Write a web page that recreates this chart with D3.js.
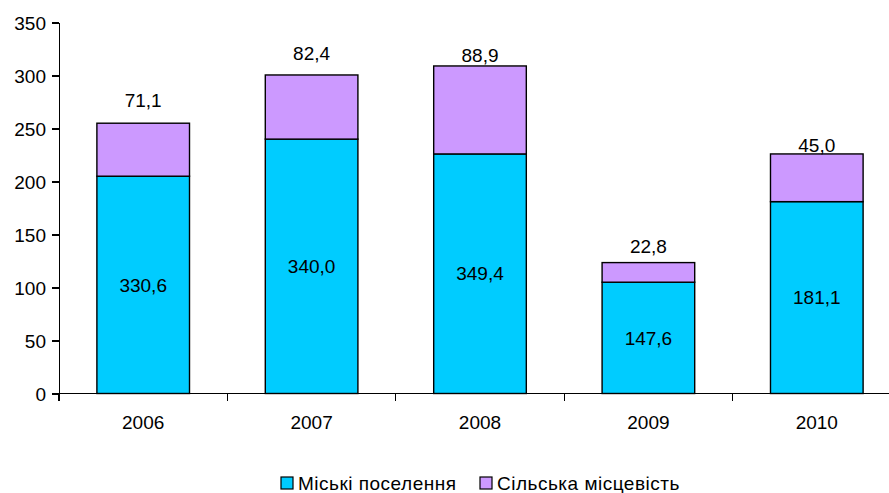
<!DOCTYPE html>
<html>
<head>
  <meta charset="utf-8">
  <script src="https://cdn.jsdelivr.net/npm/d3@7"></script>
  <style>
    html, body { margin: 0; background: #fff; }
    svg { font-family: Arial, "Liberation Sans", sans-serif; display: block; }
    .axis path, .axis line { stroke: #000; stroke-width: 1.3px; shape-rendering: crispEdges; }
    .axis text { font-size: 19px; fill: #000; }
    .bar { stroke: #000; stroke-width: 1.4px; }
    .lbl { font-size: 19px; fill: #000; text-anchor: middle; }
    .leg { font-size: 19px; letter-spacing: 0.5px; }
  </style>
</head>
<body>
<svg id="chart" width="889" height="493"></svg>
<script>
  // years and bar heights as drawn against the axis
  var years = ["2006", "2007", "2008", "2009", "2010"];
  var urban = [205, 240, 226, 105, 181];
  var rural = [50, 60.5, 83, 18.5, 45];
  // printed data labels
  var urbanLabels = ["330,6", "340,0", "349,4", "147,6", "181,1"];
  var ruralLabels = ["71,1", "82,4", "88,9", "22,8", "45,0"];
  // value level where each top label sits
  var ruralLabelAt = [277, 321, 319, 139, 234];
  var yTicks = [0, 50, 100, 150, 200, 250, 300, 350];
  var series = ["Міські поселення", "Сільська місцевість"];
  var colors = ["#00ccff", "#cc99ff"];

  var svg = d3.select("#chart");
  var mLeft = 59, mRight = 901, mTop = 22.5, mBottom = 393.5;

  var x = d3.scaleBand().domain(years).range([mLeft, mRight]).paddingInner(0.45).paddingOuter(0.225);
  var xb = d3.scaleBand().domain(years).range([mLeft, mRight]);
  var y = d3.scaleLinear().domain([0, 350]).range([mBottom, mTop]);

  var rows = years.map(function(yr, i) {
    return { year: yr, urban: urban[i], rural: rural[i], ul: urbanLabels[i], rl: ruralLabels[i], ra: ruralLabelAt[i] };
  });
  var stack = d3.stack().keys(["urban", "rural"])(rows);

  svg.selectAll("g.layer")
    .data(stack)
    .enter().append("g")
      .attr("class", "layer")
      .attr("fill", function(d, i) { return colors[i]; })
    .selectAll("rect")
    .data(function(d) { return d; })
    .enter().append("rect")
      .attr("class", "bar")
      .attr("x", function(d) { return x(d.data.year); })
      .attr("width", x.bandwidth())
      .attr("y", function(d) { return y(d[1]); })
      .attr("height", function(d) { return y(d[0]) - y(d[1]); });

  // y axis
  svg.append("g")
      .attr("class", "axis")
      .attr("transform", "translate(" + mLeft + ",0)")
      .call(d3.axisLeft(y).tickValues(yTicks).tickSize(7).tickSizeOuter(0).tickPadding(6))
      .call(function(g) { g.selectAll("text").attr("dy", "0.35em"); });

  // x axis with ticks at category boundaries
  var xa = svg.append("g")
      .attr("class", "axis")
      .attr("transform", "translate(0," + mBottom + ")");
  xa.append("line").attr("x1", mLeft).attr("x2", mRight).attr("y1", 0).attr("y2", 0);
  xa.selectAll("line.tk")
    .data(years)
    .enter().append("line")
      .attr("class", "tk")
      .attr("x1", function(d) { return xb(d); })
      .attr("x2", function(d) { return xb(d); })
      .attr("y1", 0).attr("y2", 7);
  xa.selectAll("text")
    .data(years)
    .enter().append("text")
      .attr("x", function(d) { return xb(d) + xb.bandwidth() / 2; })
      .attr("y", 29)
      .attr("dy", "0.35em")
      .attr("text-anchor", "middle")
      .text(function(d) { return d; });

  // labels
  svg.selectAll("text.ul")
    .data(rows)
    .enter().append("text")
      .attr("class", "lbl ul")
      .attr("x", function(d) { return x(d.year) + x.bandwidth() / 2; })
      .attr("y", function(d) { return y(d.urban / 2); })
      .attr("dy", "0.35em")
      .text(function(d) { return d.ul; });

  svg.selectAll("text.rl")
    .data(rows)
    .enter().append("text")
      .attr("class", "lbl rl")
      .attr("x", function(d) { return x(d.year) + x.bandwidth() / 2; })
      .attr("y", function(d) { return y(d.ra); })
      .attr("dy", "0.35em")
      .text(function(d) { return d.rl; });

  // legend
  var legend = svg.append("g").attr("transform", "translate(281,483)");
  var lx = [0, 199];
  series.forEach(function(s, i) {
    var g = legend.append("g").attr("transform", "translate(" + lx[i] + ",0)");
    g.append("rect").attr("x", 0).attr("y", -6).attr("width", 12).attr("height", 12)
      .attr("fill", colors[i]).attr("stroke", "#000").attr("stroke-width", 1.2);
    g.append("text").attr("class", "leg").attr("x", 17).attr("y", 0).attr("dy", "0.35em")
      .text(s);
  });
</script>
</body>
</html>
